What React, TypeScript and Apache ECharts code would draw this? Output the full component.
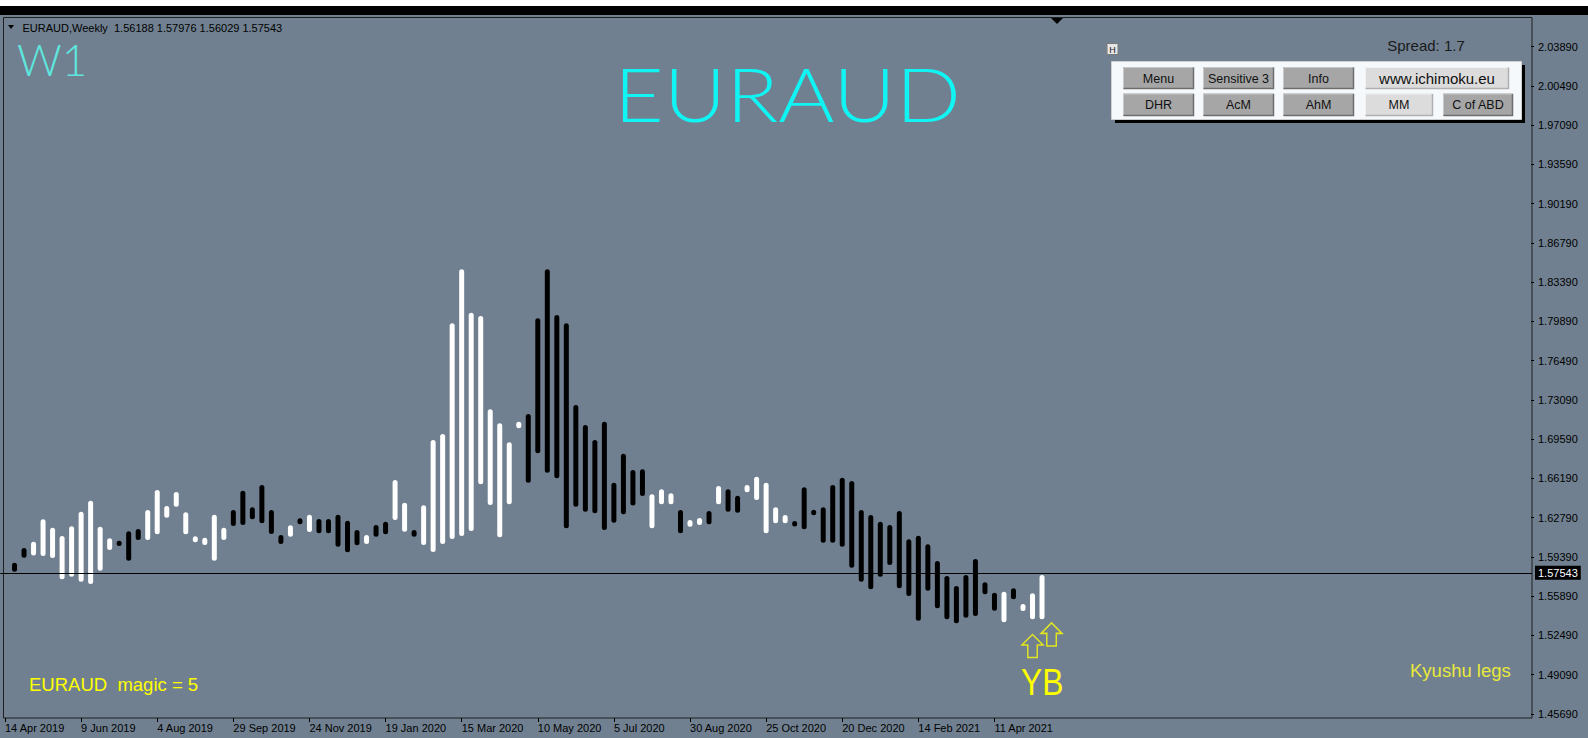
import React, { useEffect, useRef } from 'react';
import * as echarts from 'echarts';

// ---------------- DATA ----------------
const START_UTC = Date.UTC(2019, 3, 14); // 14 Apr 2019, first weekly slot
const MONTHS = ['Jan', 'Feb', 'Mar', 'Apr', 'May', 'Jun', 'Jul', 'Aug', 'Sep', 'Oct', 'Nov', 'Dec'];
const SLOT_COUNT = 161; // visible weekly slots incl. chart shift
const LAST_LABEL_SLOT = 104; // 11 Apr 2021
const LABEL_EVERY = 8;

const categories: string[] = Array.from({ length: SLOT_COUNT }, (_, i) => {
  const d = new Date(START_UTC + i * 7 * 86400000);
  return `${d.getUTCDate()} ${MONTHS[d.getUTCMonth()]} ${d.getUTCFullYear()}`;
});

// bars start at slot 1 (slot 0 is empty)
const FIRST_BAR_SLOT = 1;
const barHigh = [
  1.5867, 1.5995, 1.6050, 1.6245, 1.6172, 1.6100, 1.6184, 1.6312, 1.6408, 1.6181,
  1.6080, 1.6059, 1.6141, 1.6161, 1.6326, 1.6501, 1.6361, 1.6483, 1.6306, 1.6097,
  1.6085, 1.6285, 1.6172, 1.6326, 1.6495, 1.6350, 1.6544, 1.6326, 1.6108, 1.6193,
  1.6254, 1.6285, 1.6248, 1.6248, 1.6285, 1.6233, 1.6152, 1.6108, 1.6196, 1.6224,
  1.6588, 1.6390, 1.6152, 1.6367, 1.6937, 1.6989, 1.7954, 1.8425, 1.8047, 1.8018,
  1.7205, 1.7082, 1.6917, 1.7096, 1.7164, 1.7998, 1.8425, 1.8027, 1.7954, 1.7242,
  1.7068, 1.6937, 1.7096, 1.6565, 1.6817, 1.6675, 1.6681, 1.6463, 1.6507, 1.6472,
  1.6326, 1.6239, 1.6257, 1.6318, 1.6536, 1.6507, 1.6451, 1.6544, 1.6617, 1.6565,
  1.6350, 1.6283, 1.6231, 1.6524, 1.6328, 1.6350, 1.6544, 1.6608, 1.6579, 1.6326,
  1.6283, 1.6224, 1.6196, 1.6318, 1.6071, 1.6102, 1.6027, 1.5882, 1.5751, 1.5664,
  1.5760, 1.5899, 1.5696, 1.5605, 1.5614, 1.5644, 1.5507, 1.5600, 1.5760,
];
const barLow = [
  1.5832, 1.5954, 1.5972, 1.5969, 1.5951, 1.5766, 1.5788, 1.5745, 1.5725, 1.5841,
  1.6021, 1.6055, 1.5928, 1.6108, 1.6108, 1.6158, 1.6303, 1.6399, 1.6158, 1.6088,
  1.6065, 1.5928, 1.6108, 1.6230, 1.6239, 1.6289, 1.6254, 1.6161, 1.6074, 1.6137,
  1.6245, 1.6178, 1.6167, 1.6167, 1.6050, 1.6001, 1.6062, 1.6074, 1.6137, 1.6158,
  1.6283, 1.6181, 1.6137, 1.6065, 1.6004, 1.6074, 1.6117, 1.6143, 1.6187, 1.6594,
  1.6414, 1.6132, 1.6420, 1.7082, 1.6608, 1.6864, 1.6695, 1.6646, 1.6210, 1.6399,
  1.6355, 1.6341, 1.6196, 1.6259, 1.6333, 1.6409, 1.6492, 1.6210, 1.6420, 1.6420,
  1.6167, 1.6224, 1.6239, 1.6245, 1.6420, 1.6355, 1.6346, 1.6524, 1.6457, 1.6167,
  1.6254, 1.6254, 1.6227, 1.6202, 1.6324, 1.6085, 1.6085, 1.6050, 1.5867, 1.5745,
  1.5679, 1.5788, 1.5890, 1.5687, 1.5620, 1.5405, 1.5666, 1.5513, 1.5417, 1.5382,
  1.5431, 1.5446, 1.5635, 1.5492, 1.5391, 1.5591, 1.5489, 1.5417, 1.5417,
];
// W = white leg, B = black leg
const barColor = (
  'BBWWWWWWWW' + 'WBBBWWWWWW' + 'WWWBBBBBBW' + 'BWBBBBBWBB' + 'WWBWWWWWWW' +
  'WWWWBBBBBB' + 'BBBBBBBWWW' + 'BWWBWBBWWW' + 'WWBBBBBBBB' + 'BBBBBBBBBB' + 'BBBBWBWWW'
).split('');

const arrowSlots = [108, 110];
const arrowPrices = [1.5162, 1.5263];

const priceTickLabels = [
  '1.45690', '1.49090', '1.52490', '1.55890', '1.59390', '1.62790', '1.66190', '1.69590', '1.73090',
  '1.76490', '1.79890', '1.83390', '1.86790', '1.90190', '1.93590', '1.97090', '2.00490', '2.03890',
];
const Y_MIN = 1.4534;
const Y_MAX = 2.0639;
const CURRENT_PRICE = 1.57543;
const HEADER = 'EURAUD,Weekly  1.56188 1.57976 1.56029 1.57543';

// ---------------- STYLE ----------------
const BG = '#708090';
const YELLOW = '#ffff00';
const FONT = 'Liberation Sans, Arial, sans-serif';

const buttons: [string, number, number, number, number, boolean, number][] = [
  ['Menu', 1123, 67, 71, 22, false, 12.5],
  ['Sensitive 3', 1203, 67, 71, 22, false, 12.5],
  ['Info', 1283, 67, 71, 22, false, 12.5],
  ['www.ichimoku.eu', 1365, 67, 144, 22, true, 15],
  ['DHR', 1123, 93.5, 71, 22.5, false, 12.5],
  ['AcM', 1203, 93.5, 71, 22.5, false, 12.5],
  ['AhM', 1283, 93.5, 71, 22.5, false, 12.5],
  ['MM', 1365, 93.5, 68, 22.5, true, 12.5],
  ['C of ABD', 1443, 93.5, 70, 22.5, false, 12.5],
];

function buttonElements() {
  const els: any[] = [];
  buttons.forEach(([t, x, y, w, h, light, fs]) => {
    els.push({
      type: 'rect', shape: { x, y, width: w, height: h },
      style: { fill: light ? '#dcdcdc' : '#a6a6a6', stroke: null },
    });
    els.push({
      type: 'polyline', shape: { points: [[x + 0.5, y + h], [x + 0.5, y + 0.5], [x + w, y + 0.5]] },
      style: { stroke: light ? '#f2f2f2' : '#c8c8c8', lineWidth: 1, fill: null },
    });
    els.push({
      type: 'polyline', shape: { points: [[x + 0.5, y + h - 0.5], [x + w - 0.5, y + h - 0.5], [x + w - 0.5, y + 0.5]] },
      style: { stroke: light ? '#b0b0b0' : '#6e6e6e', lineWidth: 1.5, fill: null },
    });
    els.push({
      type: 'text', x: x + w / 2, y: y + h / 2 + 0.5,
      style: { text: t, fill: '#111', fontSize: fs, fontFamily: FONT, align: 'center', verticalAlign: 'middle' },
    });
  });
  return els;
}

export default function App() {
  const ref = useRef<HTMLDivElement>(null);

  useEffect(() => {
    document.body.style.margin = '0';
    const chart = echarts.init(ref.current!, undefined, { renderer: 'svg' });

    const barData = barHigh.map((h, i) => [FIRST_BAR_SLOT + i, h, barLow[i], barColor[i] === 'W' ? 1 : 0]);
    const showSlot = (idx: number) => idx % LABEL_EVERY === 0 && idx <= LAST_LABEL_SLOT;

    const option: any = {
      animation: false,
      backgroundColor: BG,
      grid: [
        { left: 0.25, right: 56, top: 18, bottom: 20, show: false },
        { left: 1531, right: 56, top: 46.7, bottom: 24, show: false },
      ],
      xAxis: [
        {
          type: 'category', gridIndex: 0, data: categories, boundaryGap: true,
          axisLine: { show: false },
          axisTick: { show: true, alignWithLabel: true, interval: (i: number) => showSlot(i), length: 4, lineStyle: { color: '#000' } },
          axisLabel: {
            interval: (i: number) => showSlot(i), align: 'left', margin: 4,
            color: '#000', fontSize: 11, fontFamily: FONT,
          },
          splitLine: { show: false },
        },
        { type: 'value', gridIndex: 1, show: false },
      ],
      yAxis: [
        { type: 'value', gridIndex: 0, min: Y_MIN, max: Y_MAX, show: false },
        {
          type: 'category', gridIndex: 1, data: priceTickLabels, boundaryGap: false, position: 'right',
          axisLine: { show: false },
          axisTick: { show: true, interval: 0, length: 3, lineStyle: { color: '#000' } },
          axisLabel: { interval: 0, margin: 6, color: '#000', fontSize: 11, fontFamily: FONT },
          splitLine: { show: false },
        },
      ],
      series: [
        {
          type: 'custom', xAxisIndex: 0, yAxisIndex: 0, data: barData,
          encode: { x: 0, y: [1, 2] },
          renderItem: (params: any, api: any) => {
            const top = api.coord([api.value(0), api.value(1)]);
            const bot = api.coord([api.value(0), api.value(2)]);
            return {
              type: 'line',
              shape: { x1: top[0], y1: top[1], x2: bot[0], y2: bot[1] },
              style: { stroke: api.value(3) === 1 ? '#ffffff' : '#000000', lineWidth: 5, lineCap: 'round' },
            };
          },
        },
        {
          type: 'scatter', xAxisIndex: 0, yAxisIndex: 0,
          data: arrowSlots.map((s, i) => [s, arrowPrices[i]]),
          symbol: 'path://M10,0 L20,10 L14.5,10 L14.5,22 L5.5,22 L5.5,10 L0,10 Z',
          symbolSize: [21, 23],
          itemStyle: { color: 'rgba(0,0,0,0)', borderColor: YELLOW, borderWidth: 1.5 },
          silent: true,
          markLine: {
            silent: true, symbol: 'none', animation: false,
            lineStyle: { color: '#000', width: 1, type: 'solid' },
            label: {
              position: 'end', formatter: CURRENT_PRICE.toFixed(5), distance: 3,
              backgroundColor: '#000', color: '#fff', fontSize: 11, fontFamily: FONT, padding: [2, 3, 1, 3],
            },
            data: [{ yAxis: CURRENT_PRICE }],
          },
        },
      ],
      graphic: [
        // top window bands
        { type: 'rect', shape: { x: 0, y: 0, width: 1588, height: 6 }, style: { fill: '#ffffff' } },
        { type: 'rect', shape: { x: 0, y: 6, width: 1588, height: 9 }, style: { fill: '#000000' } },
        // chart frame
        { type: 'rect', shape: { x: 3.5, y: 17.5, width: 1528.5, height: 700.5 }, style: { fill: null, stroke: '#1e1e1e', lineWidth: 1 } },
        // chart-shift marker
        { type: 'polygon', shape: { points: [[1051, 18], [1063, 18], [1057, 24]] }, style: { fill: '#000' } },
        // header
        { type: 'polygon', shape: { points: [[8, 25], [14, 25], [11, 29]] }, style: { fill: '#000' } },
        { type: 'text', x: 22.5, y: 27.5, style: { text: HEADER, fill: '#000', fontSize: 11, fontFamily: FONT, verticalAlign: 'middle' } },
        // W1 & title
        { type: 'text', x: 17, y: 59, style: { text: 'W1', fill: '#5ee6de', fontSize: 44, fontWeight: 300, fontFamily: 'Lato, sans-serif', verticalAlign: 'middle' } },
        {
          type: 'text', x: 787.5, y: 93, scaleX: 1.16, originX: 0, originY: 0,
          style: { text: 'EURAUD', fill: '#10f4f4', fontSize: 74, fontWeight: 300, fontFamily: 'Lato, sans-serif', align: 'center', verticalAlign: 'middle' },
        },
        // panel
        { type: 'text', x: 1426, y: 45.5, style: { text: 'Spread: 1.7', fill: '#1a1a1a', fontSize: 15, fontFamily: FONT, align: 'center', verticalAlign: 'middle' } },
        { type: 'rect', shape: { x: 1107, y: 43.5, width: 11, height: 11 }, style: { fill: '#e6e6e6', stroke: '#7a7a7a', lineWidth: 1 } },
        { type: 'text', x: 1112.5, y: 49.5, style: { text: 'H', fill: '#222', fontSize: 9, fontFamily: FONT, align: 'center', verticalAlign: 'middle' } },
        { type: 'rect', shape: { x: 1115, y: 65, width: 410, height: 58 }, style: { fill: '#000' } },
        { type: 'rect', shape: { x: 1111.5, y: 61.5, width: 410, height: 58 }, style: { fill: '#f6f9fc', stroke: '#d0d0d0', lineWidth: 1 } },
        ...buttonElements(),
        // annotations
        { type: 'text', x: 29, y: 684, style: { text: 'EURAUD  magic = 5', fill: YELLOW, fontSize: 18.5, fontFamily: FONT, verticalAlign: 'middle' } },
        { type: 'text', x: 1410, y: 670, style: { text: 'Kyushu legs', fill: '#e8e83c', fontSize: 18.5, fontFamily: FONT, verticalAlign: 'middle' } },
        {
          type: 'text', x: 1021, y: 682, scaleX: 0.86, originX: 0, originY: 0,
          style: { text: 'YB', fill: YELLOW, fontSize: 37, fontFamily: FONT, verticalAlign: 'middle' },
        },
      ],
    };

    chart.setOption(option);
    return () => chart.dispose();
  }, []);

  return (
    <div
      ref={ref}
      style={{ position: 'fixed', left: 0, top: 0, width: 1588, height: 738, background: BG }}
    />
  );
}
